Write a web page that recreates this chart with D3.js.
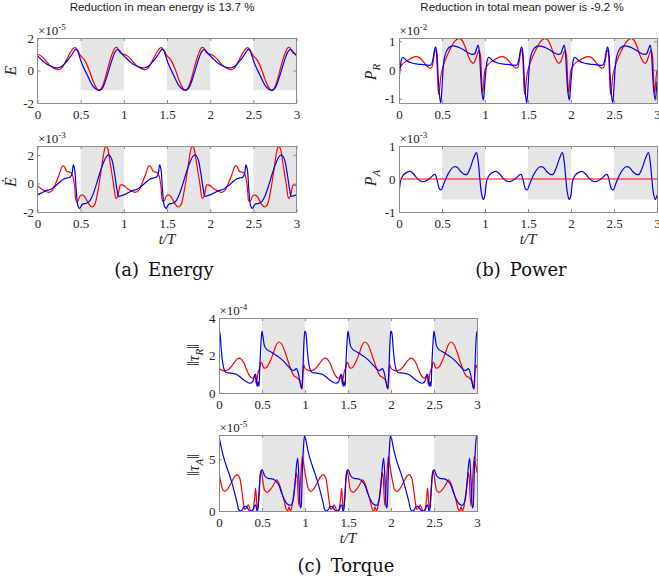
<!DOCTYPE html>
<html><head><meta charset="utf-8">
<script src="https://cdn.jsdelivr.net/npm/d3@7"></script>
<style>body{margin:0;background:#fff}</style>
</head><body><svg id="c" width="659" height="583"></svg>
<script>
// ---------------- data ----------------
const xTicks = [0,0.5,1,1.5,2,2.5,3];
const xTickLabels = ["0","0.5","1","1.5","2","2.5","3"];
const shadedIntervals = [[0.5,1],[1.5,2],[2.5,3]];
const periods = [0,1,2];   // each signal is periodic in t/T; one period is listed

const titleEnergy = "Reduction in mean energy is 13.7 %";
const titlePower = "Reduction in total mean power is -9.2 %";

// E (x1e-5)
const energyRed = [[0,1.0],[0.04,0.9],[0.08,0.7],[0.12,0.45],[0.16,0.25],[0.2,0.12],[0.24,0.05],[0.27,0.1],[0.3,0.3],[0.34,0.7],[0.38,1.1],[0.42,1.38],[0.44,1.4],[0.47,1.2],[0.5,0.9],[0.53,0.75],[0.56,0.5],[0.6,0.0],[0.64,-0.6],[0.68,-1.05],[0.71,-1.22],[0.74,-1.1],[0.78,-0.55],[0.82,0.25],[0.86,0.95],[0.9,1.4],[0.92,1.42],[0.95,1.15],[0.97,1.05]];
const energyBlue = [[0,0.9],[0.04,0.7],[0.08,0.5],[0.12,0.35],[0.16,0.25],[0.2,0.18],[0.24,0.17],[0.28,0.25],[0.32,0.45],[0.36,0.7],[0.4,1.0],[0.44,1.3],[0.46,1.25],[0.49,0.8],[0.52,0.35],[0.56,-0.1],[0.6,-0.55],[0.64,-0.95],[0.68,-1.15],[0.72,-1.22],[0.75,-1.1],[0.78,-0.75],[0.82,-0.1],[0.86,0.6],[0.9,1.15],[0.93,1.3],[0.96,1.15]];
// E-dot (x1e-3)
const energyRateRed = [[0,-0.15],[0.04,-0.35],[0.08,-0.5],[0.13,-0.62],[0.17,-0.5],[0.21,0.0],[0.25,0.6],[0.29,1.22],[0.31,1.2],[0.34,0.85],[0.37,0.8],[0.39,0.75],[0.41,0.5],[0.43,-0.2],[0.45,-1.25],[0.47,-1.2],[0.49,-0.9],[0.52,-0.8],[0.55,-0.95],[0.59,-1.4],[0.63,-1.65],[0.66,-1.5],[0.7,-0.5],[0.74,1.0],[0.77,2.2],[0.79,2.6],[0.81,2.5],[0.84,1.5],[0.88,0.0],[0.91,-1.05],[0.93,-0.9],[0.96,-0.1],[0.98,-0.1]];
const energyRateBlue = [[0,-0.8],[0.05,-0.65],[0.1,-0.5],[0.15,-0.42],[0.2,-0.2],[0.25,0.05],[0.3,0.3],[0.35,0.4],[0.38,0.45],[0.4,0.7],[0.415,1.3],[0.43,1.0],[0.45,-0.6],[0.47,-1.6],[0.49,-1.75],[0.52,-1.45],[0.56,-1.4],[0.6,-1.25],[0.64,-0.8],[0.68,-0.1],[0.72,0.7],[0.76,1.4],[0.8,1.9],[0.83,2.0],[0.86,1.7],[0.89,0.8],[0.92,-0.4],[0.94,-0.9],[0.97,-0.85]];
// P_R (x1e-2)
const powerRRed = [[0,0],[0.03,0.17],[0.07,0.28],[0.11,0.35],[0.15,0.42],[0.2,0.46],[0.24,0.42],[0.28,0.3],[0.32,0.15],[0.36,0.06],[0.38,0.08],[0.4,0.35],[0.42,0.68],[0.43,0.65],[0.445,0.0],[0.46,-0.85],[0.47,-0.7],[0.49,-0.15],[0.52,0.2],[0.56,0.5],[0.6,0.75],[0.65,1.0],[0.7,1.1],[0.73,1.04],[0.77,0.8],[0.81,0.45],[0.85,0.25],[0.87,0.24],[0.9,0.45],[0.93,0.68],[0.945,0.55],[0.96,-0.3],[0.97,-0.8],[0.98,-0.6],[0.99,-0.25]];
const powerRBlue = [[0,-0.4],[0.015,0.1],[0.03,0.38],[0.045,0.44],[0.07,0.38],[0.1,0.3],[0.15,0.24],[0.2,0.21],[0.26,0.19],[0.32,0.17],[0.37,0.17],[0.39,0.3],[0.41,0.65],[0.425,0.8],[0.44,0.6],[0.455,-0.2],[0.47,-0.85],[0.485,-1.15],[0.5,-0.6],[0.515,0.1],[0.53,0.45],[0.56,0.7],[0.6,0.82],[0.65,0.83],[0.7,0.78],[0.75,0.7],[0.8,0.6],[0.85,0.54],[0.88,0.56],[0.9,0.72],[0.92,0.86],[0.935,0.6],[0.95,-0.2],[0.965,-0.8],[0.98,-1.05],[0.99,-0.8]];
// P_A (x1e-3)
const powerARed = [[0,0],[0.5,0]];
const powerABlue = [[0,-0.48],[0.02,-0.05],[0.05,0.12],[0.09,0.2],[0.13,0.23],[0.17,0.15],[0.21,0.02],[0.25,-0.06],[0.29,-0.08],[0.33,-0.03],[0.37,0.05],[0.4,0.12],[0.42,0.14],[0.44,0.0],[0.47,-0.3],[0.49,-0.33],[0.52,-0.15],[0.56,0.1],[0.6,0.28],[0.64,0.37],[0.68,0.35],[0.72,0.22],[0.76,0.14],[0.79,0.14],[0.83,0.35],[0.87,0.65],[0.9,0.8],[0.92,0.55],[0.94,0.0],[0.96,-0.45],[0.98,-0.62],[0.99,-0.58]];
// ||tau_R|| (x1e-4)
const torqueRRed = [[0,1.32],[0.03,1.22],[0.07,1.18],[0.11,1.25],[0.15,1.45],[0.19,1.7],[0.23,1.86],[0.26,1.8],[0.29,1.6],[0.32,1.25],[0.35,0.95],[0.38,0.8],[0.4,0.8],[0.415,1.0],[0.425,0.75],[0.435,0.45],[0.445,0.8],[0.46,1.2],[0.475,1.35],[0.49,1.65],[0.505,1.55],[0.52,1.35],[0.55,1.35],[0.59,1.65],[0.63,2.1],[0.67,2.6],[0.7,2.72],[0.73,2.6],[0.77,2.15],[0.81,1.6],[0.85,1.1],[0.88,0.88],[0.9,0.85],[0.92,0.75],[0.94,0.65],[0.955,0.3],[0.965,0.2],[0.975,0.9],[0.985,1.5],[0.995,1.4]];
const torqueRBlue = [[0,3.3],[0.01,3.2],[0.025,2.4],[0.04,1.7],[0.06,1.25],[0.08,1.1],[0.12,1.07],[0.16,1.05],[0.2,1.0],[0.24,0.88],[0.28,0.72],[0.32,0.6],[0.36,0.52],[0.39,0.6],[0.41,0.85],[0.425,1.0],[0.435,0.7],[0.445,0.35],[0.455,0.6],[0.465,0.35],[0.475,1.5],[0.49,2.8],[0.5,3.3],[0.515,2.9],[0.53,2.5],[0.56,2.3],[0.6,2.2],[0.65,2.05],[0.7,1.9],[0.75,1.7],[0.8,1.45],[0.84,1.25],[0.87,1.2],[0.9,1.3],[0.92,1.1],[0.945,0.5],[0.96,0.25],[0.975,1.2],[0.99,2.9]];
// ||tau_A|| (x1e-5)
const torqueARed = [[0,3.7],[0.02,2.8],[0.04,2.1],[0.07,1.9],[0.1,2.1],[0.14,2.7],[0.18,3.3],[0.21,3.5],[0.24,3.2],[0.26,2.3],[0.28,1.0],[0.3,0.15],[0.32,0.3],[0.34,0.6],[0.36,0.2],[0.38,0.0],[0.4,0.3],[0.415,1.3],[0.425,2.2],[0.435,1.2],[0.445,0.2],[0.455,0.5],[0.47,2.5],[0.485,3.9],[0.5,3.5],[0.515,2.6],[0.53,2.0],[0.56,1.8],[0.6,2.1],[0.64,2.6],[0.67,3.0],[0.7,2.6],[0.73,1.8],[0.76,0.9],[0.78,0.2],[0.8,0.05],[0.815,0.4],[0.83,0.0],[0.85,0.5],[0.87,1.7],[0.89,3.2],[0.9,3.7],[0.91,3.2],[0.92,1.5],[0.93,0.5],[0.945,2.5],[0.96,4.5],[0.97,5.3],[0.985,4.5]];
const torqueABlue = [[0,7.2],[0.03,6.0],[0.06,5.0],[0.1,4.0],[0.14,3.0],[0.18,1.8],[0.21,0.8],[0.23,0.1],[0.25,0.0],[0.27,0.1],[0.29,0.4],[0.31,0.45],[0.33,0.3],[0.35,0.05],[0.38,0.0],[0.4,0.15],[0.42,0.6],[0.43,0.5],[0.44,0.05],[0.45,0.0],[0.465,1.5],[0.48,3.4],[0.5,4.0],[0.53,3.4],[0.57,3.15],[0.62,3.1],[0.66,2.9],[0.7,2.4],[0.73,1.7],[0.76,1.1],[0.79,0.7],[0.83,0.55],[0.86,1.0],[0.88,2.2],[0.9,4.3],[0.915,5.1],[0.93,3.0],[0.945,0.3],[0.955,0.4],[0.97,4.0],[0.985,6.5],[0.995,7.3]];

// ---------------- drawing ----------------
const svg = d3.select("#c");
const RED = "#ff0000", BLUE = "#0000ff";
const AX = "#8c8c8c", TXT = "#262626";
const SERIF = "'Liberation Serif','Times New Roman',serif";

function tile(arr){
  const out = [];
  periods.forEach(p => arr.forEach(([t,v]) => out.push([p+t, v])));
  out.push([periods.length, arr[0][1]]);
  return out;
}

let clipId = 0;
function panel(cfg){
  const x = d3.scaleLinear().domain([0,3]).range([cfg.x0, cfg.x1]);
  const y = d3.scaleLinear().domain(cfg.domain).range([cfg.y1, cfg.y0]);
  const g = svg.append("g");
  const id = "clip" + (clipId++);
  g.append("clipPath").attr("id", id).append("rect")
    .attr("x", cfg.x0).attr("y", cfg.y0).attr("width", cfg.x1-cfg.x0).attr("height", cfg.y1-cfg.y0);
  const series = cfg.series.map(s => ({data: tile(s.data), color: s.color}));
  const shadeLow = cfg.shadeFromData ? d3.min(series, s => d3.min(s.data, d => d[1])) : cfg.domain[0];
  g.selectAll("rect.shade").data(shadedIntervals).join("rect").attr("class","shade")
    .attr("x", d => x(d[0])).attr("width", d => x(d[1]) - x(d[0]))
    .attr("y", y(cfg.domain[1])).attr("height", y(shadeLow) - y(cfg.domain[1]))
    .attr("fill", "#e5e5e5");
  const line = d3.line().x(d => x(d[0])).y(d => y(d[1])).curve(cfg.curve || d3.curveCatmullRom.alpha(0.5));
  const lg = g.append("g").attr("clip-path", `url(#${id})`);
  series.forEach(s => lg.append("path").attr("d", line(s.data)).attr("fill","none")
    .attr("stroke", s.color).attr("stroke-width", 1.2).attr("stroke-linejoin","round"));

  // axes
  const styleAxis = sel => {
    sel.select(".domain").remove();
    sel.selectAll(".tick line").attr("stroke", AX);
    sel.selectAll(".tick text").attr("fill", TXT).style("font-family", SERIF).style("font-size", "13px");
  };
  g.append("g").attr("transform", `translate(0,${cfg.y1})`)
    .call(d3.axisBottom(x).tickValues(xTicks).tickFormat((d,i) => xTickLabels[i]).tickSizeInner(-3).tickSizeOuter(0).tickPadding(7))
    .call(styleAxis);
  g.append("g").attr("transform", `translate(0,${cfg.y0})`)
    .call(d3.axisTop(x).tickValues(xTicks).tickFormat("").tickSizeInner(-3).tickSizeOuter(0))
    .call(styleAxis);
  g.append("g").attr("transform", `translate(${cfg.x0},0)`)
    .call(d3.axisLeft(y).tickValues(cfg.yTicks).tickFormat(d => String(d)).tickSizeInner(-3).tickSizeOuter(0).tickPadding(3.5))
    .call(styleAxis);
  g.append("g").attr("transform", `translate(${cfg.x1},0)`)
    .call(d3.axisRight(y).tickValues(cfg.yTicks).tickFormat("").tickSizeInner(-3).tickSizeOuter(0))
    .call(styleAxis);
  g.append("rect").attr("x", cfg.x0).attr("y", cfg.y0).attr("width", cfg.x1-cfg.x0).attr("height", cfg.y1-cfg.y0)
    .attr("fill","none").attr("stroke", AX).attr("stroke-width", 1).attr("shape-rendering","crispEdges");

  // exponent
  const ex = g.append("text").attr("x", cfg.x0 + 0.5).attr("y", cfg.y0 - 3)
    .attr("fill", TXT).style("font-family", SERIF).style("font-size", "13px");
  ex.append("tspan").text("×10");
  ex.append("tspan").attr("dy", -5).style("font-size", "9px").text(cfg.exponent);

  // y label
  const yl = g.append("text").attr("transform", `translate(${cfg.labelX},${cfg.labelY}) rotate(-90)`)
    .attr("text-anchor","middle").attr("fill", TXT).style("font-family", SERIF).style("font-size","16px");
  cfg.label(yl);
  return {x, y};
}

function sub(t, main, s, pre, post){
  if (pre) t.append("tspan").text(pre);
  t.append("tspan").style("font-style","italic").text(main);
  t.append("tspan").attr("dy", 4).style("font-style","italic").style("font-size","11px").text(s);
  if (post) t.append("tspan").attr("dy", -4).text(post);
}

const A = {x0: 37.5, x1: 296.5}, B = {x0: 399, x1: 657}, C = {x0: 219, x1: 477};

panel({...A, y0: 38, y1: 103, domain: [-2, 2], yTicks: [-2,0,2], exponent: "-5", shadeFromData: true,
  labelX: 16, labelY: 70.5, label: t => t.style("font-style","italic").text("E"),
  series: [{data: energyRed, color: RED}, {data: energyBlue, color: BLUE}]});
panel({...A, y0: 146, y1: 212, domain: [-2, 2.63], yTicks: [-2,0,2], exponent: "-3",
  labelX: 16, labelY: 182, label: t => t.style("font-style","italic").text("Ė"),
  series: [{data: energyRateRed, color: RED}, {data: energyRateBlue, color: BLUE}]});
panel({...B, y0: 38, y1: 103, domain: [-1.15, 1.11], yTicks: [-1,0,1], exponent: "-2",
  labelX: 376, labelY: 72, label: t => sub(t, "P", "R"),
  series: [{data: powerRRed, color: RED}, {data: powerRBlue, color: BLUE}]});
panel({...B, y0: 146, y1: 212, domain: [-1, 1], yTicks: [-1,0,1], exponent: "-3", shadeFromData: true,
  labelX: 376, labelY: 178, label: t => sub(t, "P", "A"),
  series: [{data: powerABlue, color: BLUE}, {data: powerARed, color: RED}]});
panel({...C, y0: 318, y1: 393, domain: [0, 4], yTicks: [0,2,4], exponent: "-4",
  labelX: 199, labelY: 355, label: t => sub(t, "τ", "R", "‖", "‖"),
  series: [{data: torqueRRed, color: RED}, {data: torqueRBlue, color: BLUE}]});
panel({...C, y0: 435, y1: 511, domain: [0, 7.33], yTicks: [0,5], exponent: "-5",
  labelX: 199, labelY: 465, label: t => sub(t, "τ", "A", "‖", "‖"), curve: d3.curveMonotoneX,
  series: [{data: torqueARed, color: RED}, {data: torqueABlue, color: BLUE}]});

// titles
const SANS = "'Liberation Sans',Arial,sans-serif";
svg.append("text").attr("x", 162).attr("y", 11).attr("text-anchor","middle").attr("fill","#222")
  .style("font-family", SANS).style("font-size","11.5px").text(titleEnergy);
svg.append("text").attr("x", 522).attr("y", 11).attr("text-anchor","middle").attr("fill","#222")
  .style("font-family", SANS).style("font-size","11.5px").text(titlePower);

// t/T labels
[[167,244],[528,244],[348,543]].forEach(([cx,cy]) => {
  svg.append("text").attr("x", cx).attr("y", cy).attr("text-anchor","middle").attr("fill", TXT)
    .style("font-family", SERIF).style("font-size","15px").style("font-style","italic").text("t/T");
});

// captions
const CAP = "'DejaVu Serif',serif";
[[164,276,"(a)","Energy"],[521,276,"(b)","Power"],[346,572,"(c)","Torque"]].forEach(([cx,cy,a,b]) => {
  const t = svg.append("text").attr("x", cx).attr("y", cy).attr("text-anchor","middle").attr("fill","#111")
    .style("font-family", CAP).style("font-size","18px").attr("xml:space","preserve");
  t.text(a + "\u2002" + b);
});
</script></body></html>
